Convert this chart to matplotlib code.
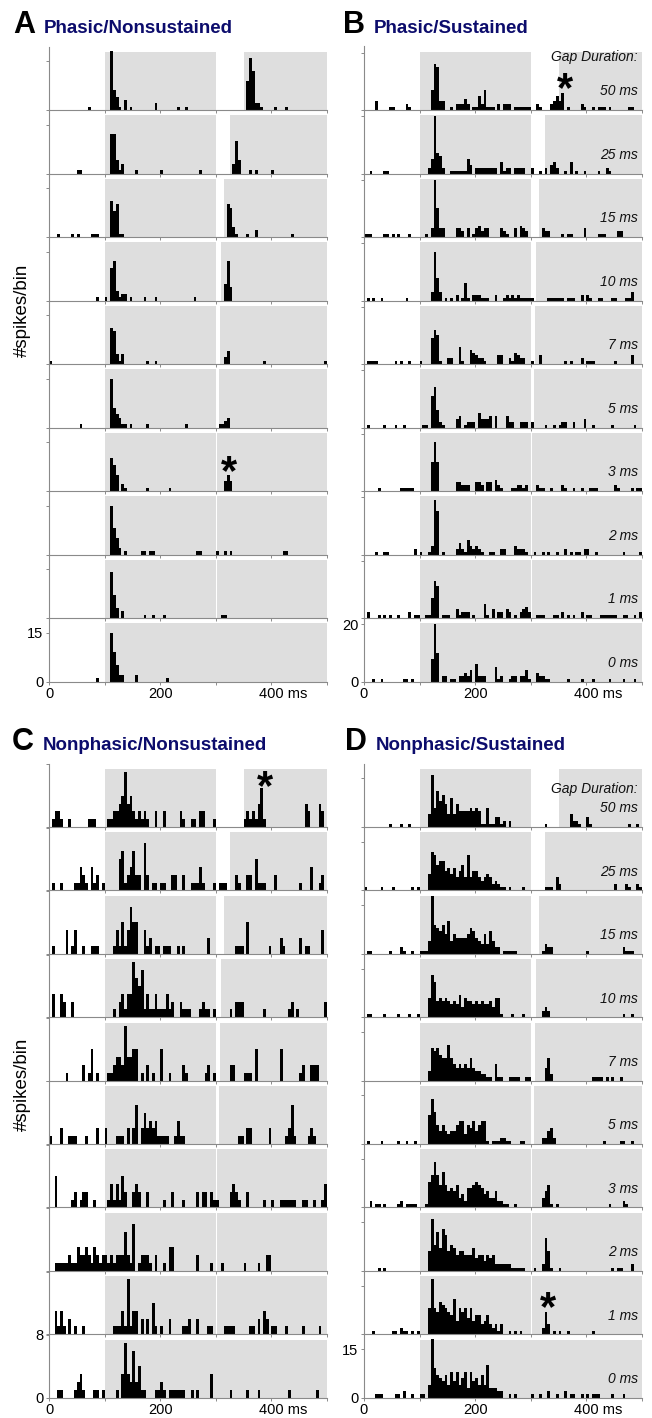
import matplotlib
matplotlib.use('Agg')
import matplotlib.pyplot as plt
from matplotlib import transforms

plt.rcParams['font.family'] = ['Liberation Sans', 'DejaVu Sans']

# ---------------- data ----------------
GAPS = [50, 25, 15, 10, 7, 5, 3, 2, 1, 0]          # gap duration per row (ms)
GAP_LABELS = ['50 ms', '25 ms', '15 ms', '10 ms', '7 ms', '5 ms', '3 ms', '2 ms', '1 ms', '0 ms']
BIN_MS = 5
STIM_ON = 100
MARKER_END = 300
T_END = 500
X_TICKS = [0, 100, 200, 300, 400, 500]
X_LABELS = ['0', '', '200', '', '400 ms', '']

# (bin start ms, spikes per bin) for each row, top (50 ms gap) to bottom (0 ms gap)
A50 = [(70,1),(110,18),(115,6),(120,4),(125,1),(135,3),(145,1),(190,2),(230,1),(245,1),(355,9),(360,16),(365,12),(370,2),(375,2),(380,1),(405,1),(425,1)]
A25 = [(50,1),(55,1),(110,12),(115,12),(120,4),(125,1),(130,3),(155,1),(200,1),(270,1),(330,3),(335,10),(340,4),(360,1),(370,1),(400,1)]
A15 = [(15,1),(40,1),(50,1),(75,1),(80,1),(85,1),(110,11),(115,8),(120,10),(125,1),(130,1),(320,10),(325,9),(330,3),(335,1),(355,1),(370,2),(435,1)]
A10 = [(85,1),(100,1),(110,10),(115,12),(120,3),(125,1),(130,2),(135,2),(145,1),(170,1),(190,1),(260,1),(315,5),(320,12),(325,4)]
A7 = [(0,1),(110,11),(115,10),(120,3),(125,1),(130,3),(175,1),(190,1),(315,2),(320,4),(385,1),(495,1)]
A5 = [(55,1),(110,15),(115,6),(120,4),(125,3),(130,1),(135,1),(145,1),(175,1),(245,1),(305,1),(310,1),(315,2),(320,3)]
A3 = [(110,10),(115,8),(120,5),(130,2),(135,1),(175,1),(215,1),(315,3),(320,5),(325,3)]
A2 = [(110,15),(115,8),(120,5),(125,2),(135,1),(165,1),(170,1),(180,1),(185,1),(265,1),(270,1),(300,1),(315,1),(325,1),(420,1),(425,1)]
A1 = [(110,14),(115,7),(120,3),(130,2),(170,1),(185,1),(205,1),(310,1),(315,1)]
A0 = [(85,1),(110,15),(115,9),(120,5),(125,2),(130,2),(155,2),(210,1)]

B50 = [(20,3),(45,1),(50,1),(75,2),(80,1),(120,7),(125,16),(130,15),(135,3),(140,3),(155,1),(165,2),(170,2),(175,2),(180,4),(185,2),(195,1),(200,1),(205,5),(210,2),(215,7),(220,1),(225,1),(230,1),(240,2),(250,2),(255,2),(260,2),(270,1),(275,1),(280,1),(285,1),(290,1),(295,1),(310,2),(315,1),(335,2),(340,3),(345,5),(350,3),(355,6),(365,1),(390,2),(395,1),(410,1),(420,1),(425,1),(430,1),(440,1),(475,1),(480,1)]
B25 = [(10,1),(35,1),(40,1),(115,2),(120,5),(125,20),(130,7),(135,6),(140,2),(155,1),(160,1),(165,1),(170,1),(175,1),(180,1),(185,5),(190,3),(200,2),(205,2),(210,2),(215,2),(220,2),(225,2),(230,2),(235,2),(245,4),(250,1),(255,2),(260,2),(270,2),(275,2),(280,2),(285,2),(300,2),(315,1),(325,2),(335,3),(340,4),(345,2),(360,1),(370,4),(380,1),(395,1),(420,1),(435,2),(440,1)]
B15 = [(0,1),(5,1),(10,1),(35,1),(40,1),(50,1),(60,1),(80,1),(110,1),(120,3),(125,20),(130,10),(135,3),(140,3),(165,3),(170,3),(175,2),(185,3),(195,1),(200,3),(205,4),(210,2),(215,3),(220,3),(245,3),(250,2),(255,1),(270,3),(280,4),(285,3),(290,2),(320,3),(325,2),(330,2),(355,1),(365,1),(370,1),(395,3),(420,1),(425,1),(430,1),(455,2),(460,2)]
B10 = [(5,1),(15,1),(30,1),(75,1),(120,3),(125,17),(130,8),(135,3),(145,1),(155,1),(165,2),(175,1),(180,6),(185,1),(195,2),(200,2),(205,2),(210,1),(215,1),(220,1),(235,2),(250,1),(255,2),(260,1),(265,2),(270,1),(275,2),(280,1),(285,1),(290,1),(295,1),(300,1),(330,1),(335,1),(340,1),(345,1),(350,1),(355,1),(365,1),(370,1),(375,1),(390,2),(400,2),(405,1),(420,1),(425,1),(445,1),(450,1),(470,1),(475,1),(480,3)]
B7 = [(5,1),(10,1),(15,1),(20,1),(55,1),(65,1),(80,1),(100,1),(120,9),(125,12),(130,10),(135,1),(150,2),(155,2),(170,6),(175,1),(190,5),(195,4),(200,3),(205,2),(210,2),(215,1),(240,3),(245,3),(260,2),(265,1),(270,4),(275,3),(280,2),(285,2),(300,1),(315,3),(360,1),(370,1),(390,2),(400,1),(405,1),(410,1),(450,1),(480,3)]
B5 = [(5,1),(35,1),(55,1),(70,1),(105,1),(110,1),(120,11),(125,14),(130,6),(135,2),(140,1),(165,3),(170,4),(180,1),(185,2),(190,2),(195,2),(205,5),(210,3),(215,3),(220,3),(225,4),(235,4),(255,4),(260,2),(265,2),(280,2),(285,2),(290,2),(300,2),(325,1),(340,1),(350,1),(355,2),(360,2),(375,2),(395,3),(410,1),(445,1),(485,1)]
B3 = [(25,1),(65,1),(70,1),(75,1),(80,1),(85,1),(120,10),(125,17),(130,10),(165,3),(170,3),(175,2),(180,2),(185,2),(200,3),(205,3),(210,2),(220,3),(225,3),(235,4),(240,2),(245,1),(265,1),(270,1),(275,2),(280,2),(285,1),(290,2),(310,2),(315,1),(320,1),(335,1),(355,2),(360,1),(375,1),(390,1),(405,1),(410,1),(415,1),(450,2),(455,1),(480,1),(490,1),(495,1)]
B2 = [(20,1),(35,1),(40,1),(90,2),(100,1),(115,1),(120,3),(125,19),(130,15),(140,1),(165,2),(170,4),(175,2),(180,1),(185,5),(190,3),(195,2),(200,3),(205,2),(210,1),(225,1),(230,1),(245,2),(250,2),(270,3),(275,2),(280,2),(285,2),(290,1),(305,1),(320,1),(330,1),(345,1),(360,2),(370,1),(380,1),(385,1),(395,2),(400,2),(415,1),(465,1),(495,1)]
B1 = [(5,2),(25,1),(35,1),(45,1),(60,1),(80,2),(90,1),(95,1),(110,1),(115,1),(120,7),(125,13),(130,11),(140,1),(145,1),(150,1),(165,3),(170,1),(175,2),(180,2),(185,2),(195,1),(215,5),(220,1),(230,3),(240,2),(245,2),(255,3),(260,2),(270,1),(280,2),(285,3),(290,4),(295,2),(310,1),(315,1),(320,1),(340,1),(345,1),(355,2),(365,1),(375,1),(390,2),(400,1),(405,1),(425,1),(430,1),(435,1),(440,1),(445,1),(450,1),(465,1),(470,1),(485,1),(495,2)]
B0 = [(15,1),(30,1),(70,1),(75,1),(85,1),(120,8),(125,20),(130,10),(140,2),(145,2),(155,1),(160,1),(170,2),(175,2),(180,3),(185,2),(190,4),(200,6),(205,2),(210,2),(215,2),(235,5),(240,1),(245,2),(260,1),(265,2),(270,2),(280,2),(285,2),(290,4),(295,1),(310,3),(315,2),(320,2),(325,1),(330,1),(365,1),(390,1),(410,1),(440,1),(465,1),(485,1)]

C50 = [(5,1),(10,2),(15,2),(20,1),(35,1),(70,1),(75,1),(80,1),(105,1),(110,1),(115,2),(120,2),(125,3),(130,4),(135,7),(140,3),(145,4),(150,2),(155,1),(160,2),(165,1),(170,2),(175,1),(190,2),(205,2),(235,2),(240,1),(255,1),(260,1),(270,2),(275,2),(295,1),(350,1),(355,2),(360,1),(365,2),(370,1),(375,3),(380,5),(385,1),(460,3),(465,2),(485,3),(490,2)]
C25 = [(5,1),(20,1),(45,1),(50,1),(55,3),(60,2),(65,1),(75,3),(80,1),(85,2),(95,1),(125,4),(130,5),(135,1),(140,2),(145,3),(150,5),(155,2),(160,2),(170,6),(175,2),(185,1),(190,1),(200,1),(205,1),(220,2),(225,2),(240,2),(255,1),(260,1),(265,1),(270,3),(275,1),(295,1),(305,1),(310,1),(315,1),(335,2),(340,1),(355,2),(360,2),(370,4),(375,1),(380,1),(385,1),(405,2),(450,1),(470,3),(485,1),(490,2)]
C15 = [(5,1),(30,3),(40,1),(45,3),(60,1),(75,1),(80,1),(85,1),(115,1),(120,3),(125,1),(130,4),(135,1),(140,3),(145,6),(150,4),(155,4),(170,3),(175,1),(180,2),(190,1),(195,1),(205,1),(210,1),(215,1),(230,1),(240,1),(285,2),(335,1),(340,1),(345,1),(355,4),(395,1),(415,2),(420,1),(450,2),(460,1),(465,1),(490,3)]
C10 = [(5,3),(20,3),(25,2),(40,2),(115,1),(125,2),(130,3),(135,1),(140,3),(145,3),(150,7),(155,5),(160,4),(165,6),(170,1),(175,3),(180,1),(185,1),(190,3),(195,1),(200,1),(205,1),(210,3),(215,1),(220,2),(235,2),(240,1),(245,1),(250,1),(270,1),(275,2),(280,1),(285,1),(295,1),(325,1),(335,2),(340,2),(345,2),(385,1),(430,1),(435,2),(445,1),(495,2)]
C7 = [(30,1),(60,2),(70,1),(75,4),(85,1),(105,1),(110,1),(115,2),(120,3),(125,3),(130,2),(135,7),(140,3),(145,3),(150,4),(155,4),(165,1),(175,2),(185,1),(200,4),(215,1),(240,2),(245,1),(280,1),(285,2),(295,1),(325,2),(330,2),(350,1),(355,1),(360,1),(370,4),(415,4),(450,1),(455,2),(470,2),(475,2),(480,2)]
C5 = [(0,1),(20,2),(35,1),(40,1),(45,1),(65,1),(85,2),(100,2),(120,1),(125,1),(130,1),(140,2),(150,2),(155,5),(165,2),(170,4),(175,2),(180,3),(185,2),(190,3),(195,1),(200,1),(205,1),(210,1),(225,1),(230,3),(235,1),(240,1),(340,1),(345,1),(355,2),(360,2),(395,2),(425,1),(430,2),(435,5),(440,1),(465,1),(470,2),(475,1)]
C3 = [(10,4),(40,1),(45,2),(55,1),(60,2),(65,2),(80,1),(105,1),(110,3),(115,1),(120,3),(125,1),(130,4),(135,2),(150,2),(155,3),(160,2),(175,2),(205,1),(220,2),(240,1),(265,2),(275,2),(280,2),(290,2),(295,1),(300,1),(325,2),(330,3),(335,2),(340,1),(355,2),(385,1),(400,1),(415,1),(420,1),(425,1),(430,1),(435,1),(440,1),(455,1),(460,1),(475,1),(490,1),(495,3)]
C2 = [(10,1),(15,1),(20,1),(25,1),(30,1),(35,2),(40,1),(45,1),(50,3),(55,2),(60,2),(65,3),(70,2),(75,1),(80,3),(85,2),(90,1),(95,2),(100,2),(105,1),(110,2),(115,1),(120,2),(125,2),(130,2),(135,5),(140,2),(145,1),(150,6),(160,1),(165,2),(170,2),(175,2),(180,1),(190,2),(205,1),(215,3),(220,3),(265,2),(290,1),(310,1),(350,1),(375,1),(390,2),(395,2)]
C1 = [(10,3),(15,1),(20,3),(25,1),(35,2),(45,1),(60,1),(115,1),(120,1),(125,1),(130,3),(135,1),(140,7),(145,1),(150,3),(155,3),(165,2),(175,2),(185,4),(190,1),(200,1),(215,2),(240,1),(245,1),(250,2),(265,2),(285,1),(290,1),(315,1),(320,1),(325,1),(330,1),(360,1),(365,1),(375,2),(385,3),(390,2),(400,1),(405,1),(425,1),(455,1),(485,1)]
C0 = [(15,1),(20,1),(45,1),(50,2),(55,3),(60,1),(80,1),(85,1),(95,1),(120,1),(130,3),(135,7),(140,3),(145,2),(150,6),(155,2),(160,4),(165,1),(170,1),(190,1),(195,1),(200,2),(205,1),(215,1),(220,1),(225,1),(230,1),(235,1),(240,1),(255,1),(265,1),(290,3),(325,1),(355,1),(375,1),(430,1),(480,1)]

D50 = [(45,1),(65,1),(80,1),(115,4),(120,16),(125,6),(130,11),(135,8),(140,10),(145,7),(150,4),(155,9),(160,4),(165,7),(170,5),(175,5),(180,5),(185,5),(190,6),(195,5),(200,6),(205,5),(210,1),(215,1),(220,6),(225,1),(230,1),(235,3),(240,3),(245,1),(250,2),(260,2),(325,1),(370,4),(375,2),(380,2),(385,1),(400,3),(405,1),(475,1),(490,1)]
D25 = [(0,1),(30,1),(50,1),(85,1),(95,1),(115,5),(120,12),(125,11),(130,8),(135,9),(140,9),(145,6),(150,7),(155,5),(160,7),(165,4),(170,6),(175,8),(180,4),(185,11),(190,4),(195,6),(200,6),(205,4),(210,3),(215,4),(220,5),(225,4),(230,2),(235,3),(240,2),(245,1),(250,1),(260,1),(285,1),(325,1),(330,1),(335,1),(345,4),(350,2),(450,2),(470,2),(475,1),(490,2),(495,1)]
D15 = [(5,1),(10,1),(45,1),(65,2),(70,1),(85,1),(100,1),(105,1),(110,1),(115,4),(120,18),(125,9),(130,8),(135,7),(140,9),(145,6),(150,10),(155,4),(160,6),(165,5),(170,5),(175,5),(180,5),(185,6),(190,8),(195,7),(200,5),(205,4),(210,3),(215,6),(220,3),(225,7),(230,4),(235,2),(240,2),(250,1),(255,1),(260,1),(265,1),(270,1),(320,1),(325,3),(330,2),(335,2),(400,1),(465,2),(470,1),(475,1),(480,1)]
D10 = [(5,1),(10,1),(35,1),(60,1),(80,1),(95,1),(115,6),(120,13),(125,11),(130,5),(135,6),(140,5),(145,6),(150,5),(155,4),(160,5),(165,4),(170,7),(175,3),(180,6),(185,5),(190,5),(195,4),(200,5),(205,4),(210,5),(215,4),(220,4),(225,5),(230,3),(235,6),(240,6),(245,1),(265,1),(285,1),(320,2),(325,3),(330,2),(465,1),(480,1)]
D7 = [(115,3),(120,10),(125,9),(130,10),(135,8),(140,7),(145,7),(150,11),(155,7),(160,5),(165,4),(170,5),(175,4),(180,5),(185,4),(190,7),(195,4),(200,3),(205,3),(210,2),(215,2),(220,1),(225,1),(235,5),(240,1),(245,1),(260,1),(265,1),(270,1),(275,1),(290,1),(295,1),(325,4),(330,7),(335,2),(410,1),(415,1),(420,1),(425,1),(435,1),(445,1),(460,1)]
D5 = [(5,1),(30,1),(60,1),(75,1),(90,1),(115,9),(120,14),(125,10),(130,6),(135,4),(140,6),(145,4),(150,3),(155,4),(160,4),(165,6),(170,7),(175,7),(180,3),(185,6),(190,5),(195,7),(200,4),(205,6),(210,7),(215,7),(220,1),(230,1),(235,1),(240,1),(245,2),(250,2),(255,1),(260,1),(280,1),(285,1),(320,2),(325,2),(330,4),(335,5),(340,2),(430,1),(460,1),(465,1),(480,1)]
D3 = [(10,2),(20,1),(25,1),(35,1),(60,1),(65,2),(75,1),(80,1),(85,1),(90,1),(110,1),(115,8),(120,10),(125,14),(130,10),(135,7),(140,11),(145,7),(150,5),(155,6),(160,5),(165,7),(170,3),(175,4),(180,2),(185,6),(190,6),(195,7),(200,8),(205,7),(210,6),(215,4),(220,5),(225,3),(230,3),(235,5),(240,2),(245,2),(250,1),(255,1),(270,1),(320,3),(325,5),(330,7),(335,1),(345,1),(440,1),(465,2),(470,1)]
D2 = [(25,1),(35,1),(115,6),(120,16),(125,8),(130,12),(135,7),(140,13),(145,11),(150,6),(155,8),(160,7),(165,5),(170,6),(175,6),(180,5),(185,5),(190,5),(195,7),(200,4),(205,5),(210,5),(215,3),(220,5),(225,4),(230,5),(235,2),(240,2),(245,2),(250,2),(255,2),(260,2),(265,1),(270,1),(275,1),(280,1),(285,1),(305,1),(320,2),(325,10),(330,6),(335,1),(350,1),(445,1),(455,1),(460,1),(480,2)]
D1 = [(15,1),(50,1),(55,1),(65,2),(70,1),(75,1),(85,1),(95,1),(115,8),(120,17),(125,8),(130,7),(135,10),(140,9),(145,8),(150,7),(155,6),(160,11),(165,4),(170,8),(175,7),(180,8),(185,5),(190,8),(195,4),(200,6),(205,6),(210,3),(215,4),(220,6),(225,3),(230,2),(235,3),(240,1),(245,3),(260,1),(270,1),(280,1),(320,2),(325,7),(330,3),(340,1),(350,1),(365,1),(410,1)]
D0 = [(20,1),(25,1),(30,1),(55,1),(60,1),(70,2),(85,1),(100,1),(105,1),(115,4),(120,18),(125,9),(130,7),(135,6),(140,5),(145,7),(150,4),(155,8),(160,5),(165,8),(170,4),(175,6),(180,8),(185,3),(190,8),(195,5),(200,6),(205,4),(210,7),(215,4),(220,10),(225,3),(230,3),(235,3),(240,2),(245,2),(260,1),(270,1),(300,1),(315,1),(330,2),(345,1),(360,2),(370,1),(375,1),(390,1),(400,1),(410,1),(415,1),(420,1),(445,1),(465,1)]

ROWS_A = [A50, A25, A15, A10, A7, A5, A3, A2, A1, A0]
ROWS_B = [B50, B25, B15, B10, B7, B5, B3, B2, B1, B0]
ROWS_C = [C50, C25, C15, C10, C7, C5, C3, C2, C1, C0]
ROWS_D = [D50, D25, D15, D10, D7, D5, D3, D2, D1, D0]

TITLES = ['Phasic/Nonsustained', 'Phasic/Sustained', 'Nonphasic/Nonsustained', 'Nonphasic/Sustained']
LETTERS = ['A', 'B', 'C', 'D']
Y_TICK_TOP = [15, 20, 8, 15]
# significant-response asterisks: (panel, row, ms, height in counts)
STARS = [(0, 6, 324, 9.5), (1, 0, 361, 11.5), (2, 0, 388, 6.6), (3, 8, 331, 11.8)]

# ---------------- layout ----------------
W, H = 652, 1418
fig = plt.figure(figsize=(W / 100, H / 100), dpi=100)
fig.patch.set_facecolor('white')

NAVY = '#0c0c6c'
GRAY_BG = '#dedede'
AX_COL = '#8a8a8a'
TICK_FS = 10.5

# per panel: left px, first baseline px, row spacing px, y max
PANEL_GEOM = [
    (49, 110.0, 63.5, 19.44),
    (364, 110.0, 63.5, 22.1),
    (49, 827.0, 63.4, 8.1),
    (364, 827.0, 63.4, 19.6),
]
AX_W = 278
GRAY_FRAC = 0.915


def add_px_axes(left, top, width, height):
    return fig.add_axes([left / W, 1 - (top + height) / H, width / W, height / H])


panel_rows = [ROWS_A, ROWS_B, ROWS_C, ROWS_D]
axes_store = {}
for p, rows in enumerate(panel_rows):
    left, base0, sp, ymax = PANEL_GEOM[p]
    for r, data in enumerate(rows):
        base = base0 + r * sp
        ax = add_px_axes(left, base - sp, AX_W, sp)
        axes_store[(p, r)] = ax
        ax.set_xlim(0, T_END)
        ax.set_ylim(0, ymax)
        ax.patch.set_alpha(0)
        gap = GAPS[r]
        if gap > 0:
            ax.axvspan(STIM_ON, MARKER_END, ymin=0, ymax=GRAY_FRAC, color=GRAY_BG, lw=0, zorder=0)
            ax.axvspan(MARKER_END + max(gap, 1.6), T_END, ymin=0, ymax=GRAY_FRAC, color=GRAY_BG, lw=0, zorder=0)
        else:
            ax.axvspan(STIM_ON, T_END, ymin=0, ymax=GRAY_FRAC, color=GRAY_BG, lw=0, zorder=0)
        xs = [d[0] for d in data]
        hs = [d[1] for d in data]
        ax.bar(xs, hs, width=BIN_MS, align='edge', color='black', lw=0, zorder=2)
        for s in ['top', 'right']:
            ax.spines[s].set_visible(False)
        for s in ['left', 'bottom']:
            ax.spines[s].set_color(AX_COL)
            ax.spines[s].set_linewidth(0.8)
        ax.set_xticks(X_TICKS)
        ax.set_yticks([0, Y_TICK_TOP[p]])
        ax.tick_params(axis='both', direction='out', length=2.5, width=0.7, color=AX_COL,
                       labelsize=TICK_FS, pad=1.5)
        if r == len(rows) - 1:
            ax.set_xticklabels(X_LABELS)
            ax.set_yticklabels(['0', str(Y_TICK_TOP[p])])
            # keep the number centred on its tick, with the unit trailing
            half_num = 0.5 * 3 * 0.556 * TICK_FS / 72.0
            for lab in ax.get_xticklabels():
                if lab.get_text().endswith('ms'):
                    lab.set_horizontalalignment('left')
                    lab.set_transform(lab.get_transform() +
                                      transforms.ScaledTranslation(-half_num, 0, fig.dpi_scale_trans))
        else:
            ax.set_xticklabels([])
            ax.set_yticklabels([])
        # gap labels on sustained panels
        if p in (1, 3):
            ax.text(0.986, 0.23, GAP_LABELS[r], transform=ax.transAxes, ha='right',
                    va='baseline', fontsize=10, style='italic', color='#111111', zorder=5)

# "Gap Duration:" headers
axes_store[(1, 0)].text(0.986, 0.77, 'Gap Duration:', transform=axes_store[(1, 0)].transAxes,
                        ha='right', va='baseline', fontsize=10, style='italic', color='#111111')
axes_store[(3, 0)].text(0.986, 0.537, 'Gap Duration:', transform=axes_store[(3, 0)].transAxes,
                        ha='right', va='baseline', fontsize=10, style='italic', color='#111111')

# asterisks
STAR_FS = 30
for p, r, xm, yc in STARS:
    ax = axes_store[(p, r)]
    tr = transforms.offset_copy(ax.transData, fig=fig, y=-0.57 * STAR_FS, units='points')
    ax.text(xm, yc, '*', transform=tr, ha='center', va='baseline', fontsize=STAR_FS,
            fontweight='bold', color='black', zorder=6, clip_on=False)

# panel titles
TITLE_POS = [(13, 33), (343, 33), (12, 750), (345, 750)]
for i, (tx, ty) in enumerate(TITLE_POS):
    fig.text(tx / W, 1 - ty / H, LETTERS[i], fontsize=22, fontweight='bold', color='black',
             ha='left', va='baseline')
    fig.text((tx + 31) / W, 1 - ty / H, TITLES[i], fontsize=13.5, fontweight='bold', color=NAVY,
             ha='left', va='baseline')

# y labels
fig.text(22 / W, 1 - 310 / H, '#spikes/bin', rotation=90, ha='center', va='center', fontsize=13.5)
fig.text(22 / W, 1 - 1084 / H, '#spikes/bin', rotation=90, ha='center', va='center', fontsize=13.5)

fig.savefig('out.png', dpi=100, facecolor='white')
